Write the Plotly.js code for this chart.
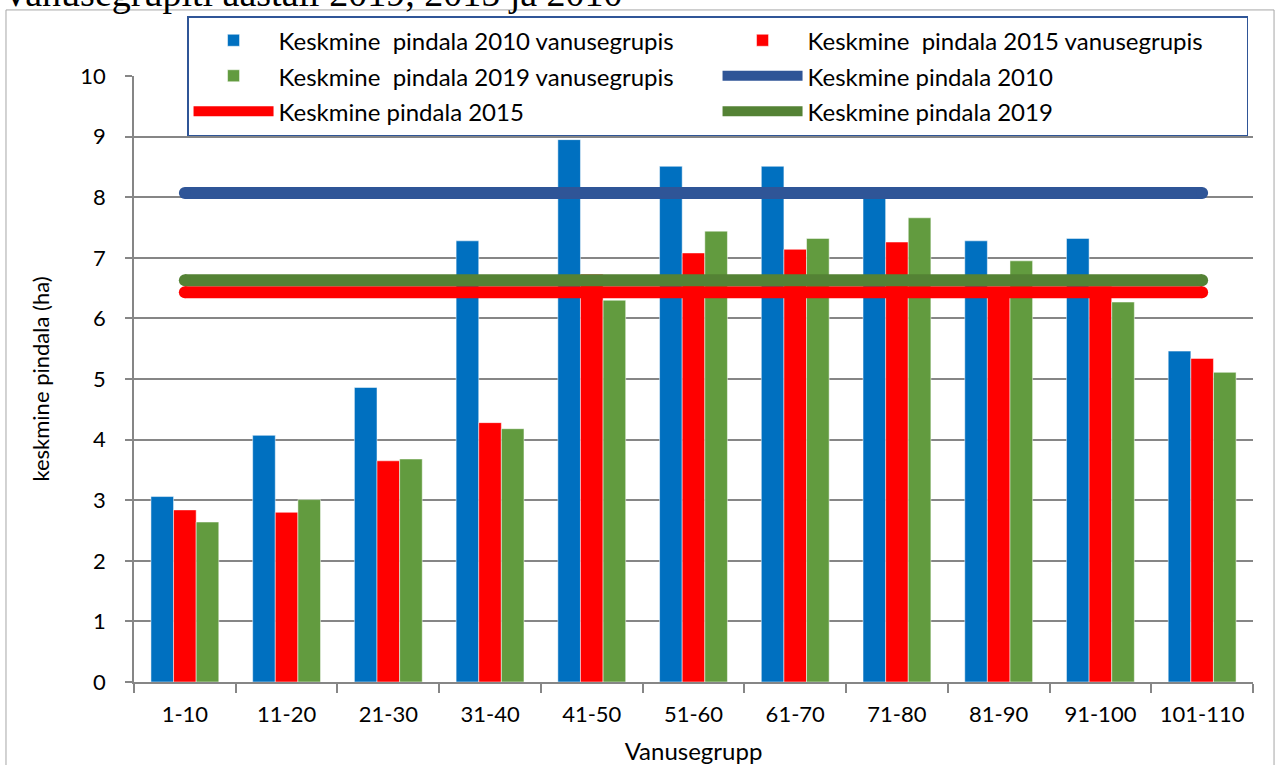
<!DOCTYPE html>
<html>
<head>
<meta charset="utf-8">
<script src="https://cdn.plot.ly/plotly-3.0.1.min.js"></script>
<style>
  html, body { margin: 0; padding: 0; background: #fff; }
  #chart { width: 1276px; height: 765px; }
</style>
</head>
<body>
<div id="chart"></div>
<script>
var groups = ['1-10', '11-20', '21-30', '31-40', '41-50', '51-60', '61-70', '71-80', '81-90', '91-100', '101-110'];
var bars2010 = [3.06, 4.07, 4.86, 7.28, 8.95, 8.51, 8.51, 8.05, 7.28, 7.32, 5.46];
var bars2015 = [2.84, 2.80, 3.65, 4.28, 6.73, 7.08, 7.14, 7.26, 6.45, 6.53, 5.34];
var bars2019 = [2.64, 3.01, 3.68, 4.18, 6.30, 7.44, 7.32, 7.66, 6.95, 6.27, 5.11];
var avg2010 = 8.07;
var avg2015 = 6.43;
var avg2019 = 6.63;

var ends = [groups[0], groups[groups.length - 1]];

// legend text is smaller than the legend font so the rows get Excel-like spacing
function lbl(s) {
  return '<span style="font-size:24px">' + s + '</span>';
}

var b1 = {
  x: groups, y: bars2010, type: 'bar',
  name: lbl('Keskmine\u00a0 pindala 2010 vanusegrupis'),
  marker: {color: '#0070C0', line: {color: '#ffffff', width: 0.5}}
};
var b2 = {
  x: groups, y: bars2015, type: 'bar',
  name: lbl('Keskmine\u00a0 pindala 2015 vanusegrupis'),
  marker: {color: '#FF0000', line: {color: '#ffffff', width: 0.5}}
};
var b3 = {
  x: groups, y: bars2019, type: 'bar',
  name: lbl('Keskmine\u00a0 pindala 2019 vanusegrupis'),
  marker: {color: '#629B3F', line: {color: '#ffffff', width: 0.5}}
};

function avgLine(val, color, label) {
  return {
    x: ends, y: [val, val], type: 'scatter', mode: 'lines',
    name: lbl(label), line: {color: color, width: 12}
  };
}
// round ends of the average lines
function avgCaps(val, color) {
  return {
    x: ends, y: [val, val], type: 'scatter', mode: 'markers',
    showlegend: false, hoverinfo: 'skip',
    marker: {color: color, size: 12}
  };
}

var data = [
  b1, b2, b3,
  avgLine(avg2010, '#2F5597', 'Keskmine pindala 2010'),
  avgLine(avg2015, '#FF0000', 'Keskmine pindala 2015'),
  avgLine(avg2019, '#548235', 'Keskmine pindala 2019'),
  avgCaps(avg2010, '#2F5597'),
  avgCaps(avg2015, '#FF0000'),
  avgCaps(avg2019, '#548235')
];

var layout = {
  width: 1276, height: 765,
  margin: {l: 134, r: 23, t: 76, b: 83},
  paper_bgcolor: '#fff', plot_bgcolor: '#fff',
  font: {family: 'Lato, sans-serif', size: 22, color: '#000'},
  showlegend: true,
  barmode: 'group', bargap: 0.333, bargroupgap: 0,
  xaxis: {
    type: 'category', range: [-0.5, 10.5], tickson: 'boundaries',
    ticks: 'outside', ticklen: 9, tickcolor: '#868686', tickwidth: 1.5,
    showline: true, linecolor: '#868686', linewidth: 1.5,
    showgrid: false,
    tickfont: {size: 22}, ticklabelstandoff: 12,
    title: {text: 'Vanusegrupp', font: {size: 24}, standoff: 18}
  },
  yaxis: {
    range: [0, 10], dtick: 1, tick0: 0,
    ticks: 'outside', ticklen: 7, tickcolor: '#868686', tickwidth: 1.5,
    showline: true, linecolor: '#868686', linewidth: 1.5,
    showgrid: true, gridcolor: '#868686', gridwidth: 1.5,
    zeroline: false,
    tickfont: {size: 22}, ticklabelstandoff: 15,
    title: {text: 'keskmine pindala (ha)', font: {size: 22}, standoff: 25}
  },
  legend: {
    orientation: 'h', x: 0.0474, y: 1.099, xanchor: 'left', yanchor: 'top',
    bgcolor: '#fff', bordercolor: '#2F5597', borderwidth: 1.5,
    entrywidth: 434, entrywidthmode: 'pixels', itemwidth: 80,
    font: {size: 25}, traceorder: 'normal'
  },
  shapes: [{
    type: 'rect', xref: 'paper', yref: 'paper',
    x0: -0.1144, x1: 1.0188, y0: -0.2, y1: 1.109,
    line: {color: '#A6A6A6', width: 1}, fillcolor: 'rgba(0,0,0,0)', layer: 'below'
  }],
  annotations: [{
    xref: 'paper', yref: 'paper', x: -0.1198, y: 1.137,
    xanchor: 'left', yanchor: 'middle', showarrow: false,
    text: 'Vanusegrupiti aastail 2019, 2015 ja 2010',
    font: {family: 'Liberation Serif, serif', size: 38, color: '#000'}
  }]
};

Plotly.newPlot('chart', data, layout, {displayModeBar: false});
</script>
</body>
</html>
